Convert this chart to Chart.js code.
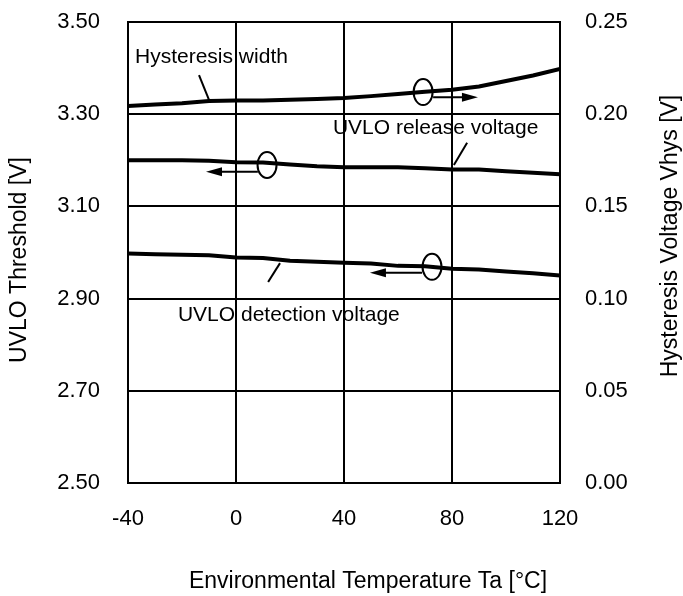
<!DOCTYPE html>
<html>
<head>
<meta charset="utf-8">
<script src="https://cdn.jsdelivr.net/npm/chart.js@4.4.1/dist/chart.umd.min.js"></script>
<style>
  html, body { margin: 0; padding: 0; background: #fff; }
  .chart-box { width: 683px; height: 596px; position: relative; }
</style>
</head>
<body>
<div class="chart-box"><canvas id="chart"></canvas></div>
<script>
const temps = [-40, -30, -20, -10, 0, 10, 20, 30, 40, 50, 60, 70, 80, 90, 100, 110, 120];
const hysteresis = [0.2045, 0.2052, 0.2060, 0.2072, 0.2074, 0.2074, 0.2078, 0.2082, 0.2088, 0.2098, 0.2110, 0.2122, 0.2132, 0.2150, 0.2180, 0.2210, 0.2245];
const releaseV = [3.200, 3.200, 3.200, 3.199, 3.196, 3.195, 3.191, 3.187, 3.185, 3.185, 3.185, 3.183, 3.180, 3.180, 3.176, 3.173, 3.170];
const detectV = [2.998, 2.996, 2.995, 2.994, 2.989, 2.988, 2.982, 2.980, 2.978, 2.976, 2.971, 2.970, 2.965, 2.963, 2.959, 2.955, 2.950];

const xTitle = "Environmental Temperature Ta [°C]";
const yTitle = "UVLO Threshold [V]";
const y2Title = "Hysteresis Voltage Vhys [V]";

// callouts, in data units (x = °C, y = left axis V)
const labels = [
  { text: "Hysteresis width", x: -37.4, y: 3.424 },
  { text: "UVLO release voltage", x: 35.9, y: 3.270 },
  { text: "UVLO detection voltage", x: -21.5, y: 2.864 }
];
const leaders = [
  [-13.7, 3.385, -10.0, 3.331],
  [85.6, 3.238, 80.7, 3.190],
  [16.3, 2.977, 11.9, 2.936]
];
const rings = [
  [69.3, 3.348],
  [11.5, 3.190],
  [72.6, 2.969]
];
const arrows = [
  [73.0, 3.337, 89.6, 3.337],
  [8.1, 3.175, -11.1, 3.175],
  [68.9, 2.956, 49.6, 2.956]
];

const FONT = "'Liberation Sans', Arial, sans-serif";
const INK = "#000";

const calloutPlugin = {
  id: "callouts",
  afterDatasetsDraw(chart) {
    const { ctx, chartArea: a, scales } = chart;
    const px = (v) => scales.x.getPixelForValue(v);
    const py = (v) => scales.y.getPixelForValue(v);
    ctx.save();
    ctx.strokeStyle = INK;
    ctx.fillStyle = INK;

    // frame
    ctx.lineWidth = 2;
    ctx.strokeRect(a.left, a.top, a.right - a.left, a.bottom - a.top);

    // leader lines
    leaders.forEach(([x1, y1, x2, y2]) => {
      ctx.beginPath();
      ctx.moveTo(px(x1), py(y1));
      ctx.lineTo(px(x2), py(y2));
      ctx.stroke();
    });

    // rings
    rings.forEach(([x, y]) => {
      ctx.beginPath();
      ctx.ellipse(px(x), py(y), 9.5, 13, 0, 0, Math.PI * 2);
      ctx.stroke();
    });

    // arrows
    arrows.forEach(([x1, y1, x2, y2]) => {
      const sx = px(x1), sy = py(y1), ex = px(x2), ey = py(y2);
      const dir = Math.sign(ex - sx);
      ctx.beginPath();
      ctx.moveTo(sx, sy);
      ctx.lineTo(ex - dir * 10, ey);
      ctx.stroke();
      ctx.beginPath();
      ctx.moveTo(ex, ey);
      ctx.lineTo(ex - dir * 16, ey - 4.5);
      ctx.lineTo(ex - dir * 16, ey + 4.5);
      ctx.closePath();
      ctx.fill();
    });

    // callout text
    ctx.font = "21px " + FONT;
    ctx.textAlign = "left";
    ctx.textBaseline = "middle";
    labels.forEach((l) => {
      ctx.fillText(l.text, px(l.x), py(l.y));
    });

    // axis titles
    ctx.font = "23px " + FONT;
    ctx.textAlign = "center";
    ctx.fillText(xTitle, 368, 582);

    ctx.save();
    ctx.translate(20, 260);
    ctx.rotate(-Math.PI / 2);
    ctx.fillText(yTitle, 0, 0);
    ctx.restore();

    ctx.save();
    ctx.translate(671, 236);
    ctx.rotate(-Math.PI / 2);
    ctx.fillText(y2Title, 0, 0);
    ctx.restore();

    ctx.restore();
  }
};

const lineStyle = {
  borderColor: INK,
  backgroundColor: INK,
  borderWidth: 4,
  pointRadius: 0,
  tension: 0,
  fill: false
};

// keep the plot box where the reference has it
const noOverflow = (scale) => {
  scale.paddingTop = 0;
  scale.paddingBottom = 0;
  scale.paddingLeft = 0;
  scale.paddingRight = 0;
};

new Chart(document.getElementById("chart"), {
  type: "line",
  data: {
    datasets: [
      { label: "Hysteresis width", data: temps.map((t, i) => ({ x: t, y: hysteresis[i] })), yAxisID: "y2", ...lineStyle },
      { label: "UVLO release voltage", data: temps.map((t, i) => ({ x: t, y: releaseV[i] })), yAxisID: "y", ...lineStyle },
      { label: "UVLO detection voltage", data: temps.map((t, i) => ({ x: t, y: detectV[i] })), yAxisID: "y", ...lineStyle }
    ]
  },
  options: {
    responsive: true,
    maintainAspectRatio: false,
    animation: false,
    layout: { padding: { top: 22, left: 0, right: 0, bottom: 0 } },
    plugins: {
      legend: { display: false },
      tooltip: { enabled: false }
    },
    scales: {
      x: {
        type: "linear",
        min: -40,
        max: 120,
        afterBuildTicks: (scale) => {
          scale.ticks = [-40, 0, 40, 80, 120].map((v) => ({ value: v }));
        },
        afterFit: (scale) => { scale.height = 113; noOverflow(scale); },
        grid: { color: INK, lineWidth: 2, drawTicks: false },
        border: { color: INK, width: 2 },
        ticks: {
          color: INK,
          padding: 23,
          maxRotation: 0,
          font: { family: FONT, size: 22 }
        }
      },
      y: {
        position: "left",
        min: 2.5,
        max: 3.5,
        afterBuildTicks: (scale) => {
          scale.ticks = [2.5, 2.7, 2.9, 3.1, 3.3, 3.5].map((v) => ({ value: v }));
        },
        afterFit: (scale) => { scale.width = 128; noOverflow(scale); },
        grid: { color: INK, lineWidth: 2, drawTicks: false },
        border: { color: INK, width: 2 },
        ticks: {
          color: INK,
          padding: 28,
          font: { family: FONT, size: 22 },
          callback: (v) => Number(v).toFixed(2)
        }
      },
      y2: {
        position: "right",
        min: 0,
        max: 0.25,
        afterBuildTicks: (scale) => {
          scale.ticks = [0, 0.05, 0.1, 0.15, 0.2, 0.25].map((v) => ({ value: v }));
        },
        afterFit: (scale) => { scale.width = 123; noOverflow(scale); },
        grid: { display: false, drawTicks: false },
        border: { color: INK, width: 2 },
        ticks: {
          color: INK,
          padding: 25,
          font: { family: FONT, size: 22 },
          callback: (v) => Number(v).toFixed(2)
        }
      }
    }
  },
  plugins: [calloutPlugin]
});
</script>
</body>
</html>
